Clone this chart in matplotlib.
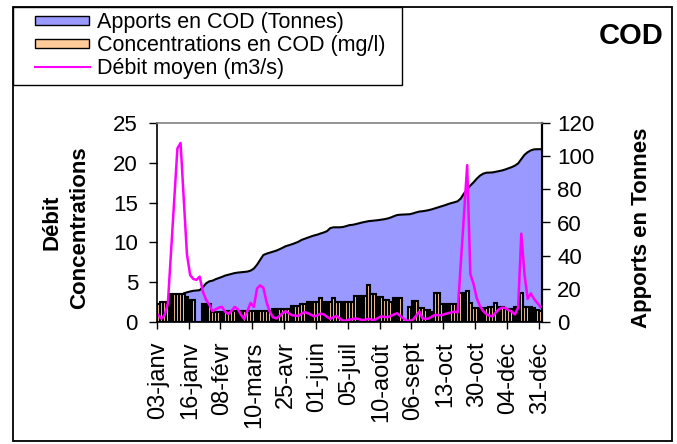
import numpy as np
import matplotlib
matplotlib.use("Agg")
import matplotlib.pyplot as plt
from matplotlib.patches import Rectangle
from matplotlib.lines import Line2D

plt.rcParams['font.family'] = ['Liberation Sans', 'DejaVu Sans']

# ---- data -------------------------------------------------------------
tick_labels = ["03-janv", "16-janv", "08-févr", "10-mars", "25-avr", "01-juin",
               "05-juil", "10-août", "06-sept", "13-oct", "30-oct", "04-déc", "31-déc"]

# COD concentrations (mg/l), one value per sample
concentrations = [
    2.2, 2.5, 2.5, 2.5, 3.5, 3.5, 3.5, 3.5, 3.5, 3.1,
    2.75, 2.75, 0, 0, 2.2, 2.2, 2.2, 1.2, 1.2, 1.2,
    1.2, 1.2, 1.4, 1.4, 1.4, 1.4, 1.4, 1.4, 1.4, 1.4,
    1.4, 1.4, 1.4, 1.4, 1.4, 1.4, 1.6, 1.6, 1.6, 1.6,
    1.6, 1.6, 2.0, 2.0, 2.0, 2.2, 2.2, 2.5, 2.5, 2.5,
    2.5, 3.0, 2.5, 2.5, 2.5, 3.0, 2.45, 2.45, 2.45, 2.45,
    2.45, 2.45, 3.25, 3.25, 3.25, 3.25, 4.7, 3.5, 3.5, 3.2,
    3.2, 2.75, 2.75, 2.5, 3.0, 3.0, 3.0, 0, 0, 1.9,
    2.6, 2.6, 1.7, 1.7, 1.5, 1.5, 1.3, 3.7, 3.7, 2.3,
    2.3, 2.3, 2.3, 2.3, 0, 3.7, 3.7, 3.9, 2.4, 1.7,
    1.7, 1.7, 1.7, 1.7, 1.9, 1.9, 2.35, 1.9, 1.9, 1.6,
    1.6, 1.6, 1.9, 1.9, 3.7, 1.9, 1.9, 1.9, 1.7, 1.5,
    1.4,
]

# mean flow (m3/s)
debit = [
    0.88, 0.4, 0.9, 2.3, 8.8, 15.3, 21.8, 22.5, 15.4, 8.5,
    5.9, 5.4, 5.3, 5.7, 3.8, 2.8, 2.2, 1.35, 1.6, 1.8,
    1.9, 1.3, 1.0, 1.4, 1.9, 1.6, 0.9, 0.35, 1.4, 2.4,
    1.9, 4.2, 4.6, 4.3, 2.5, 1.3, 0.6, 0.45, 0.7, 1.1,
    1.35, 1.1, 0.85, 0.8, 0.75, 1.05, 1.25, 1.1, 0.9, 0.7,
    0.85, 1.05, 0.95, 0.65, 0.4, 0.6, 0.75, 0.45, 0.15, 0.2,
    0.3, 0.35, 0.45, 0.35, 0.25, 0.3, 0.4, 0.3, 0.25, 0.5,
    0.7, 0.65, 0.6, 0.75, 0.95, 1.1, 0.75, 0.45, 0.15, 0.15,
    0.3, 0.8, 1.3, 0.45, 0.4, 0.45, 0.7, 0.9, 0.85, 0.85,
    1.0, 1.1, 1.2, 1.3, 1.2, 7.4, 13.5, 19.7, 6.0, 4.8,
    3.0, 2.0, 1.4, 1.0, 0.8, 0.7, 1.2, 1.6, 1.8, 1.75,
    1.5, 1.3, 0.95, 1.8, 11.1, 6.0, 2.9, 3.6, 2.9, 2.4,
    1.9,
]

# cumulative COD load (tonnes)
apports = [
    0.5, 0.9, 1.3, 2.2, 4.5, 8.5, 12.5, 15.5, 17.3, 17.9,
    18.4, 18.8, 19.0, 19.2, 21.0, 23.3, 24.5, 24.9, 25.8, 26.5,
    27.2, 28.0, 28.5, 29.0, 29.5, 29.8, 30.0, 30.2, 30.4, 31.0,
    32.2, 34.5, 37.5, 40.4, 41.2, 41.8, 42.4, 43.0, 43.8, 44.7,
    45.7, 46.3, 46.9, 47.6, 48.4, 49.5, 50.2, 50.9, 51.6, 52.2,
    52.7, 53.4, 54.0, 54.8, 56.6, 57.1, 57.1, 57.1, 57.3, 57.8,
    58.4, 58.6, 59.0, 59.5, 60.0, 60.4, 60.8, 61.0, 61.2, 61.4,
    61.7, 62.0, 62.4, 63.0, 63.8, 64.5, 64.7, 64.8, 64.9, 65.0,
    65.5, 66.1, 66.6, 66.8, 67.1, 67.5, 68.0, 68.6, 69.2, 69.8,
    70.4, 71.1, 71.7, 72.2, 72.8, 74.5, 77.5, 80.0, 82.3, 84.2,
    86.4, 88.2, 89.4, 90.0, 90.1, 90.2, 90.6, 91.0, 91.4, 92.0,
    92.7, 93.4, 94.3, 95.6, 98.2, 100.8, 102.4, 103.5, 104.1, 104.2,
    104.2,
]

legend_labels = ["Apports en COD (Tonnes)", "Concentrations en COD (mg/l)",
                 "Débit moyen (m3/s)"]

# ---- figure -----------------------------------------------------------
W, H = 677, 444
fig = plt.figure(figsize=(W / 100, H / 100), dpi=100)
fig.patch.set_facecolor("white")


def fx(px):
    return px / W


def fy(py):
    return 1 - py / H


x = np.arange(len(concentrations))

ax2 = fig.add_axes([fx(156.7), fy(322), fx(542) - fx(156.7), fy(123) - fy(322)])
ax = fig.add_axes(ax2.get_position(), sharex=ax2)
ax.set_zorder(ax2.get_zorder() + 1)
ax.patch.set_visible(False)
ax2.patch.set_facecolor("white")

BLUE = "#9999FF"
ORANGE = "#FFCC99"
MAGENTA = "#FF00FF"

# cumulative load area (right axis)
ax2.fill_between(x, 0, apports, color=BLUE, linewidth=0)
ax2.plot(x, apports, color="black", linewidth=1.5)
ax2.set_ylim(0, 120)
ax2.set_yticks(np.arange(0, 121, 20))
ax2.yaxis.tick_right()
ax2.yaxis.set_label_position("right")

# concentrations and flow (left axis)
ax.bar(x, concentrations, width=0.85, color=ORANGE, edgecolor="black",
       linewidth=1.5)
ax.plot(x, debit, color=MAGENTA, linewidth=1.8)
ax.set_ylim(0, 25)
ax.set_yticks(np.arange(0, 26, 5))
ax.set_xlim(-0.5, len(x) - 0.5)

# category axis: labels every 10 samples, tick marks on category boundaries
label_pos = np.arange(0, len(x), 10)
ax.set_xticks(label_pos)
ax.set_xticklabels(tick_labels, rotation=90, fontsize=17)
ax.set_xticks(label_pos - 0.5, minor=True)
ax.tick_params(axis="x", which="major", length=0, pad=14)
ax.tick_params(axis="x", which="minor", length=5, width=1.0, direction="out")
ax.tick_params(axis="y", length=5.5, width=1.0, direction="out", labelsize=16, pad=8)
ax2.tick_params(axis="y", length=6, width=1.0, direction="out", labelsize=16, pad=5)
ax2.tick_params(axis="x", which="both", length=0, labelbottom=False)

for s in ["left", "bottom"]:
    ax.spines[s].set_linewidth(1.2)
ax.spines["top"].set_color("#808080")
ax.spines["top"].set_linewidth(1.2)
ax.spines["right"].set_visible(False)
for s in ["left", "top", "bottom"]:
    ax2.spines[s].set_visible(False)
ax2.spines["right"].set_linewidth(1.6)

# axis titles
fig.text(fx(51.7), fy(222.5), "Débit", rotation=90, ha="center", va="center",
         fontsize=16, fontweight="bold")
fig.text(fx(80), fy(227.5), "Concentrations", rotation=90, ha="center", va="center",
         fontsize=16, fontweight="bold")
fig.text(fx(641), fy(228), "Apports en Tonnes", rotation=90, ha="center", va="center",
         fontsize=16, fontweight="bold")

# chart title
fig.text(fx(631), fy(36), "COD", ha="center", va="center", fontsize=21,
         fontweight="bold")

# outer frame
fig.patches.append(Rectangle((fx(13), fy(441)), fx(672) - fx(13), fy(7) - fy(441),
                             transform=fig.transFigure, fill=False,
                             edgecolor="black", linewidth=1.3))

# legend box
fig.patches.append(Rectangle((fx(13), fy(85)), fx(402) - fx(13), fy(7) - fy(85),
                             transform=fig.transFigure, facecolor="white",
                             edgecolor="black", linewidth=1.0))
fig.patches.append(Rectangle((fx(35), fy(25)), fx(89) - fx(35), fy(16) - fy(25),
                             transform=fig.transFigure, facecolor=BLUE,
                             edgecolor="black", linewidth=1.0))
fig.patches.append(Rectangle((fx(35), fy(48)), fx(89) - fx(35), fy(39) - fy(48),
                             transform=fig.transFigure, facecolor=ORANGE,
                             edgecolor="black", linewidth=1.0))
fig.lines.append(Line2D([fx(35), fx(90)], [fy(66.7), fy(66.7)],
                        transform=fig.transFigure, color=MAGENTA, linewidth=1.5))
for label, base in zip(legend_labels, [28.3, 51.3, 74]):
    fig.text(fx(97), fy(base), label, ha="left", va="baseline", fontsize=15.5)

fig.savefig("out.png", dpi=100)
